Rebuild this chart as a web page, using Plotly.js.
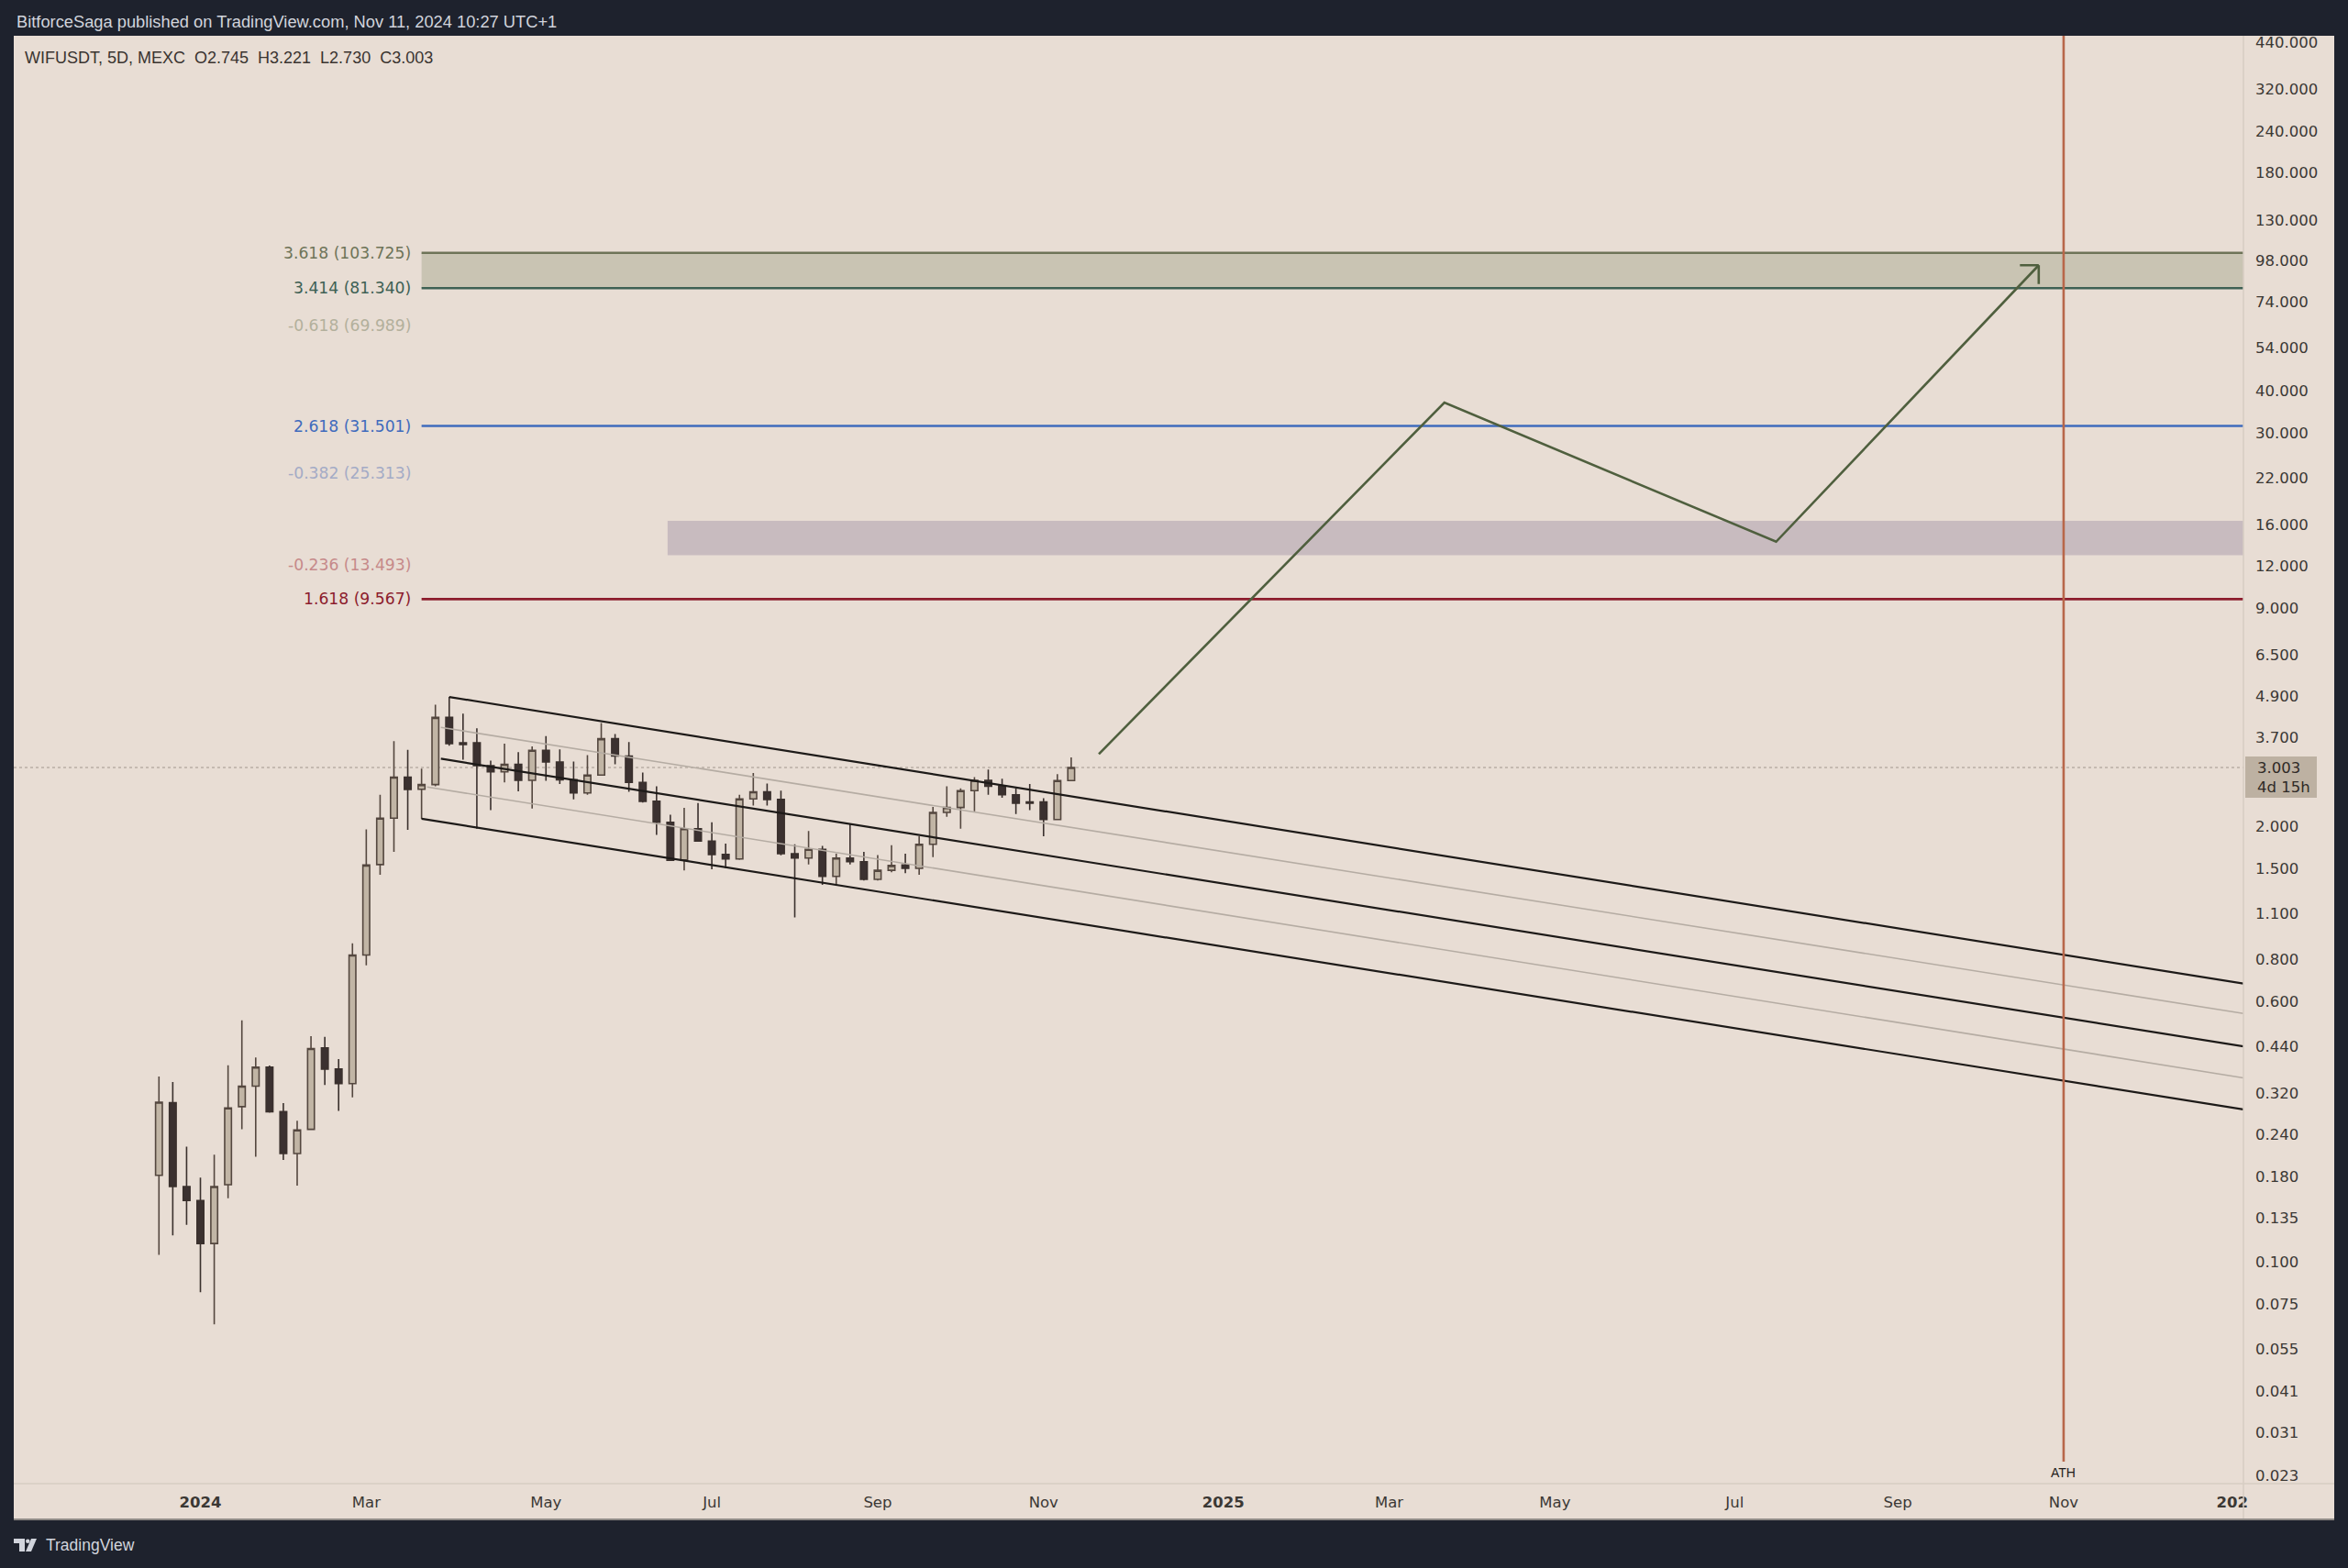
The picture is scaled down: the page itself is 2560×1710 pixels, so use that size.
<!DOCTYPE html>
<html><head><meta charset="utf-8">
<script src="https://cdn.plot.ly/plotly-3.0.1.min.js"></script>
<style>html,body{margin:0;padding:0;background:#1e222d;}#chart{width:2560px;height:1710px;}</style>
</head><body><div id="chart"></div>
<script>
// ---------- data ----------
const candleDates = ['2023-12-17','2023-12-22','2023-12-27','2024-01-01','2024-01-06','2024-01-11','2024-01-16','2024-01-21','2024-01-26','2024-01-31',
'2024-02-05','2024-02-10','2024-02-15','2024-02-20','2024-02-25','2024-03-01','2024-03-06','2024-03-11','2024-03-16','2024-03-21',
'2024-03-26','2024-03-31','2024-04-05','2024-04-10','2024-04-15','2024-04-20','2024-04-25','2024-04-30','2024-05-05','2024-05-10',
'2024-05-15','2024-05-20','2024-05-25','2024-05-30','2024-06-04','2024-06-09','2024-06-14','2024-06-19','2024-06-24','2024-06-29',
'2024-07-04','2024-07-09','2024-07-14','2024-07-19','2024-07-24','2024-07-29','2024-08-03','2024-08-08','2024-08-13','2024-08-18',
'2024-08-23','2024-08-28','2024-09-02','2024-09-07','2024-09-12','2024-09-17','2024-09-22','2024-09-27','2024-10-02','2024-10-07',
'2024-10-12','2024-10-17','2024-10-22','2024-10-27','2024-11-01','2024-11-06','2024-11-11'];
const openP  = [0.1815,0.299,0.168,0.1525,0.1135,0.170,0.291,0.335,0.382,0.281,0.2107,0.249,0.436,0.377,0.341,0.826,1.54,2.12,2.81,2.585,
2.67,4.24,3.56,3.56,3.04,2.915,3.07,2.75,3.38,3.12,2.76,2.52,2.85,3.66,3.25,2.71,2.38,2.06,1.59,1.97,
1.81,1.65,1.60,2.42,2.54,2.41,1.66,1.61,1.71,1.42,1.61,1.57,1.39,1.48,1.535,1.50,1.77,2.205,2.28,2.56,
2.75,2.64,2.49,2.37,2.37,2.10,2.745];
const highP  = [0.358,0.345,0.221,0.1785,0.209,0.387,0.527,0.408,0.386,0.298,0.264,0.4725,0.4705,0.404,0.896,1.96,2.49,3.60,3.39,2.98,
4.63,4.88,4.35,3.93,3.15,3.54,3.34,3.47,3.73,3.40,3.13,3.27,4.08,3.78,3.58,2.90,2.64,2.17,2.275,2.35,
2.06,1.78,2.49,2.89,2.69,2.56,1.77,1.94,1.75,1.66,2.03,1.68,1.645,1.76,1.66,1.87,2.29,2.64,2.60,2.81,
2.96,2.78,2.60,2.68,2.43,2.87,3.221];
const lowP   = [0.105,0.120,0.129,0.0812,0.0651,0.155,0.249,0.206,0.279,0.2017,0.169,0.248,0.338,0.2825,0.310,0.77,1.435,1.68,1.955,2.11,
2.64,3.49,3.17,1.97,2.24,2.71,2.55,2.265,2.74,2.68,2.41,2.49,2.84,3.07,2.54,2.36,1.89,1.58,1.48,1.80,
1.49,1.50,1.59,2.31,2.31,1.64,1.07,1.54,1.34,1.33,1.54,1.38,1.38,1.46,1.45,1.435,1.62,2.14,1.97,2.22,
2.49,2.44,2.18,2.24,1.87,2.09,2.730];
const closeP = [0.300,0.168,0.1525,0.1135,0.168,0.2885,0.335,0.382,0.281,0.2107,0.248,0.434,0.377,0.341,0.826,1.535,2.12,2.81,2.58,2.67,
4.24,3.54,3.52,3.04,2.915,3.07,2.75,3.38,3.12,2.76,2.52,2.85,3.66,3.25,2.71,2.38,2.06,1.585,1.97,1.81,
1.65,1.60,2.42,2.54,2.41,1.66,1.61,1.71,1.42,1.61,1.57,1.39,1.48,1.53,1.50,1.77,2.205,2.28,2.56,2.75,
2.64,2.49,2.35,2.35,2.10,2.745,3.003];

// descending channel (start/end dates and prices)
const chanEnd = '2026-01-09 01:12';
const chanTopX = ['2024-03-31', chanEnd],  chanTopY = [4.88, 0.679];
const chanUpGreyX = ['2024-03-28', chanEnd], chanUpGreyY = [3.957, 0.5525];
const chanMidX = ['2024-03-28', chanEnd], chanMidY = [3.19, 0.4405];
const chanLoGreyX = ['2024-03-23', chanEnd], chanLoGreyY = [2.626, 0.3548];
const chanBotX = ['2024-03-21', chanEnd], chanBotY = [2.11, 0.2857];

// projected path
const pathX = ['2024-11-21','2025-03-26','2025-07-24','2025-10-27'];
const pathY = [3.295, 37.0, 14.2, 95.2];

// fib levels drawn as lines
const fibStart = '2024-03-21';
const fibLabels = ['3.618 (103.725)','3.414 (81.340)','2.618 (31.501)','1.618 (9.567)'];
const fibValues = [103.725, 81.34, 31.501, 9.567];
const fibColors = ['#6e7458','#3e6154','#3f6bbd','#8c1c2d'];
// fib levels with hidden lines (label only)
const fibHidLabels = ['-0.618 (69.989)','-0.382 (25.313)','-0.236 (13.493)'];
const fibHidValues = [69.989, 25.313, 13.493];
const fibHidColors = ['#b3b09c','#a4abc6','#c68a8a'];

// zones
const greenZone = [81.34, 103.725];
const pinkZoneStart = '2024-06-18';
const pinkZone = [12.95, 16.4];

const athDate = '2025-11-05';
const lastPrice = 3.003;

const yTickVals = [440,320,240,180,130,98,74,54,40,30,22,16,12,9,6.5,4.9,3.7,2.0,1.5,1.1,0.8,0.6,0.44,0.32,0.24,0.18,0.135,0.1,0.075,0.055,0.041,0.031,0.023];
const yTickText = ['440.000','320.000','240.000','180.000','130.000','98.000','74.000','54.000','40.000','30.000','22.000','16.000','12.000','9.000','6.500','4.900','3.700','2.000','1.500','1.100','0.800','0.600','0.440','0.320','0.240','0.180','0.135','0.100','0.075','0.055','0.041','0.031','0.023'];
const xTickVals = ['2024-01-01','2024-03-01','2024-05-05','2024-07-04','2024-09-02','2024-11-01','2025-01-05','2025-03-06','2025-05-05','2025-07-09','2025-09-06','2025-11-05','2026-01-05'];
const xTickText = ['<b>2024</b>','Mar','May','Jul','Sep','Nov','<b>2025</b>','Mar','May','Jul','Sep','Nov','<b>202</b>'];

// ---------- layout helpers ----------
const L = 15, R = 2446, T = 39, B = 1618;
const PX = p => (p - L) / (R - L);
const PY = p => (B - p) / (B - T);
const BEIGE = '#e8ddd4';
const FONT = 'DejaVu Sans';

const traces = [];
traces.push({
  type:'candlestick', x:candleDates, open:openP, high:highP, low:lowP, close:closeP,
  increasing:{line:{color:'#54473f', width:1.6}, fillcolor:'#c1b5a5'},
  decreasing:{line:{color:'#3a302d', width:1.6}, fillcolor:'#3b3130'},
  whiskerwidth:0, hoverinfo:'skip', showlegend:false
});
function line(x, y, color, width){
  traces.push({type:'scatter', mode:'lines', x:x, y:y, line:{color:color, width:width}, hoverinfo:'skip', showlegend:false});
}
line(chanUpGreyX, chanUpGreyY, '#b5aca3', 1.6);
line(chanLoGreyX, chanLoGreyY, '#b5aca3', 1.6);
line(chanTopX, chanTopY, '#1d1a18', 2.2);
line(chanMidX, chanMidY, '#1d1a18', 2.2);
line(chanBotX, chanBotY, '#1d1a18', 2.2);
line(pathX, pathY, '#4f5f3e', 2.6);

const shapes = [];
// axis panels
shapes.push({type:'rect', xref:'paper', yref:'paper', x0:1, x1:PX(2545), y0:PY(1658), y1:1, fillcolor:BEIGE, line:{width:0}, layer:'below'});
shapes.push({type:'rect', xref:'paper', yref:'paper', x0:0, x1:1, y0:PY(1658), y1:0, fillcolor:BEIGE, line:{width:0}, layer:'below'});
shapes.push({type:'line', xref:'paper', yref:'paper', x0:1, x1:1, y0:PY(1658), y1:1, line:{color:'#d7cdc3', width:1.5}});
shapes.push({type:'line', xref:'paper', yref:'paper', x0:0, x1:PX(2545), y0:0, y1:0, line:{color:'#d7cdc3', width:1.5}});
shapes.push({type:'line', xref:'paper', yref:'paper', x0:0, x1:PX(2545), y0:PY(1657), y1:PY(1657), line:{color:'#8f8a86', width:2}});
// zones
shapes.push({type:'rect', xref:'x', yref:'y', x0:fibStart, x1:chanEnd, y0:greenZone[0], y1:greenZone[1], fillcolor:'#c9c4b3', line:{width:0}, layer:'below'});
shapes.push({type:'rect', xref:'x', yref:'y', x0:pinkZoneStart, x1:chanEnd, y0:pinkZone[0], y1:pinkZone[1], fillcolor:'#c8bbbf', line:{width:0}, layer:'below'});
// fib lines
fibValues.forEach((v,i)=>{
  shapes.push({type:'line', xref:'x', yref:'y', x0:fibStart, x1:chanEnd, y0:v, y1:v, line:{color:fibColors[i], width:2.6}, layer:'below'});
});
// last price dotted line
shapes.push({type:'line', xref:'paper', yref:'y', x0:0, x1:1, y0:lastPrice, y1:lastPrice, line:{color:'#b9afa5', width:1.3, dash:'dot'}, layer:'below'});
// ATH vertical
shapes.push({type:'line', xref:'x', yref:'paper', x0:athDate, x1:athDate, y0:PY(1594), y1:1, line:{color:'#b8674a', width:2.6}});
// last price box
shapes.push({type:'rect', xref:'paper', yref:'paper', x0:PX(2448), x1:PX(2526), y0:PY(870), y1:PY(825), fillcolor:'#bdb1a2', line:{width:0}});
// TradingView logo (approx)
const lp = (pts)=> 'M' + pts.map(p=>PX(p[0])+','+PY(p[1])).join(' L') + ' Z';
shapes.push({type:'path', xref:'paper', yref:'paper', path: lp([[15,1678],[27,1678],[27,1692],[21,1692],[21,1683],[15,1683]]), fillcolor:'#d1d4dc', line:{width:0}});
shapes.push({type:'circle', xref:'paper', yref:'paper', x0:PX(28), x1:PX(32.5), y0:PY(1683), y1:PY(1678.5), fillcolor:'#d1d4dc', line:{width:0}});
shapes.push({type:'path', xref:'paper', yref:'paper', path: lp([[34,1678],[40,1678],[34,1692],[28,1692]]), fillcolor:'#d1d4dc', line:{width:0}});

const ann = [];
ann.push({xref:'paper', yref:'paper', x:PX(15.6), y:PY(23.5), xanchor:'left', yanchor:'middle', showarrow:false,
  text:'BitforceSaga published on TradingView.com, Nov 11, 2024 10:27 UTC+1', font:{family:'Liberation Sans', size:18.3, color:'#d1d4dc'}});
ann.push({xref:'paper', yref:'paper', x:PX(25), y:PY(63), xanchor:'left', yanchor:'middle', showarrow:false,
  text:'WIFUSDT, 5D, MEXC&nbsp;&nbsp;O2.745&nbsp;&nbsp;H3.221&nbsp;&nbsp;L2.730&nbsp;&nbsp;C3.003', font:{family:'Liberation Sans', size:18, color:'#3a3430'}});
ann.push({xref:'paper', yref:'paper', x:PX(48), y:PY(1685), xanchor:'left', yanchor:'middle', showarrow:false,
  text:'TradingView', font:{family:'Liberation Sans', size:17.5, color:'#d1d4dc'}});
fibValues.forEach((v,i)=>{
  ann.push({xref:'x', yref:'y', x:fibStart, y:Math.log10(v), xanchor:'right', yanchor:'middle', xshift:-10, showarrow:false,
    text:fibLabels[i], font:{family:FONT, size:17.2, color:fibColors[i]}});
});
fibHidValues.forEach((v,i)=>{
  ann.push({xref:'x', yref:'y', x:fibStart, y:Math.log10(v), xanchor:'right', yanchor:'top', xshift:-10, yshift:-5, showarrow:false,
    text:fibHidLabels[i], font:{family:FONT, size:17.2, color:fibHidColors[i]}});
});
// arrow head (open chevron) at end of projected path
const tipX = pathX[pathX.length-1], tipY = Math.log10(pathY[pathY.length-1]);
ann.push({xref:'x', yref:'y', x:tipX, y:tipY, ax:-22, ay:0, text:'', showarrow:true, arrowhead:0, arrowwidth:2.6, arrowcolor:'#4f5f3e', standoff:0});
ann.push({xref:'x', yref:'y', x:tipX, y:tipY, ax:0, ay:22, text:'', showarrow:true, arrowhead:0, arrowwidth:2.6, arrowcolor:'#4f5f3e', standoff:0});
// ATH label
ann.push({xref:'x', yref:'paper', x:athDate, y:PY(1606), xanchor:'center', yanchor:'middle', showarrow:false,
  text:'ATH', font:{family:'Liberation Sans', size:14, color:'#1f1c1a'}});
// last price label
ann.push({xref:'paper', yref:'paper', x:PX(2459), y:PY(837.5), xanchor:'left', yanchor:'middle', showarrow:false,
  text:'3.003', font:{family:FONT, size:16.5, color:'#2f2a26'}});
ann.push({xref:'paper', yref:'paper', x:PX(2459), y:PY(858.5), xanchor:'left', yanchor:'middle', showarrow:false,
  text:'4d 15h', font:{family:FONT, size:16.5, color:'#2f2a26'}});

const layout = {
  width:2560, height:1710,
  paper_bgcolor:'#1e222d', plot_bgcolor:BEIGE,
  margin:{l:L, r:2560-R, t:T, b:1710-B, pad:0},
  showlegend:false, dragmode:false, hovermode:false,
  xaxis:{type:'date', range:['2023-10-25 11:30','2026-01-09 01:12'], showgrid:false, zeroline:false, showline:false,
    ticks:'', tickvals:xTickVals, ticktext:xTickText, tickangle:0, ticklabelstandoff:8,
    tickfont:{family:FONT, size:16.5, color:'#3b3834'}, rangeslider:{visible:false}, fixedrange:true},
  yaxis:{type:'log', side:'right', range:[-1.6628, 2.6645], showgrid:false, zeroline:false, showline:false,
    ticks:'', tickvals:yTickVals, ticktext:yTickText, ticklabelstandoff:12,
    tickfont:{family:FONT, size:16.5, color:'#3b3834'}, fixedrange:true},
  shapes:shapes, annotations:ann
};
Plotly.newPlot('chart', traces, layout, {staticPlot:true, displayModeBar:false});
</script>
</body></html>
